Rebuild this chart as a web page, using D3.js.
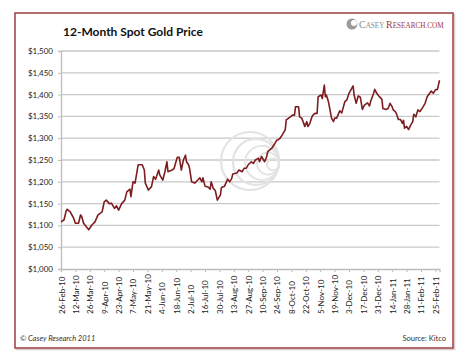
<!DOCTYPE html>
<html>
<head>
<meta charset="utf-8">
<script src="https://cdn.jsdelivr.net/npm/d3@7"></script>
<style>
  body { margin: 0; background: #fff; }
  svg { display: block; }
  text { font-family: Lato, "Open Sans", sans-serif; }
</style>
</head>
<body>
<svg id="chart" width="465" height="361"></svg>
<script>
// 12-Month Spot Gold Price -- Casey Research, Feb 2010 to Mar 2011

var dates = [
  "2010-02-26","2010-03-01","2010-03-03","2010-03-04","2010-03-07","2010-03-10","2010-03-12","2010-03-15",
  "2010-03-17","2010-03-18","2010-03-20","2010-03-23","2010-03-25","2010-03-28","2010-03-31","2010-04-03",
  "2010-04-07","2010-04-09","2010-04-11","2010-04-14","2010-04-16","2010-04-19","2010-04-21","2010-04-23",
  "2010-04-26","2010-04-29","2010-05-01","2010-05-04","2010-05-05","2010-05-07","2010-05-09","2010-05-12",
  "2010-05-16","2010-05-18","2010-05-19","2010-05-22","2010-05-25","2010-05-27","2010-05-29","2010-06-01",
  "2010-06-02","2010-06-05","2010-06-07","2010-06-09","2010-06-10","2010-06-14","2010-06-16","2010-06-19",
  "2010-06-21","2010-06-23","2010-06-25","2010-06-27","2010-06-28","2010-06-30","2010-07-01","2010-07-03",
  "2010-07-06","2010-07-09","2010-07-11","2010-07-13","2010-07-14","2010-07-16","2010-07-19","2010-07-21",
  "2010-07-22","2010-07-24","2010-07-26","2010-07-28","2010-07-31","2010-08-01","2010-08-04","2010-08-07",
  "2010-08-09","2010-08-11","2010-08-12","2010-08-16","2010-08-18","2010-08-21","2010-08-23","2010-08-25",
  "2010-08-27","2010-08-30","2010-09-01","2010-09-03","2010-09-06","2010-09-07","2010-09-09","2010-09-11",
  "2010-09-12","2010-09-14","2010-09-15","2010-09-19","2010-09-20","2010-09-22","2010-09-24","2010-09-25",
  "2010-09-27","2010-09-29","2010-10-02","2010-10-03","2010-10-07","2010-10-09","2010-10-11","2010-10-12",
  "2010-10-15","2010-10-16","2010-10-18","2010-10-20","2010-10-21","2010-10-23","2010-10-24","2010-10-26",
  "2010-10-28","2010-10-29","2010-10-31","2010-11-02","2010-11-03","2010-11-06","2010-11-07","2010-11-09",
  "2010-11-10","2010-11-11","2010-11-13","2010-11-14","2010-11-16","2010-11-18","2010-11-19","2010-11-21",
  "2010-11-23","2010-11-24","2010-11-26","2010-11-29","2010-12-01","2010-12-03","2010-12-07","2010-12-08",
  "2010-12-10","2010-12-12","2010-12-14","2010-12-16","2010-12-18","2010-12-21","2010-12-23","2010-12-24",
  "2010-12-27","2010-12-28","2010-12-30","2011-01-01","2011-01-04","2011-01-05","2011-01-08","2011-01-10",
  "2011-01-12","2011-01-14","2011-01-15","2011-01-17","2011-01-18","2011-01-20","2011-01-22","2011-01-24",
  "2011-01-25","2011-01-26","2011-01-28","2011-01-30","2011-02-01","2011-02-03","2011-02-04","2011-02-06",
  "2011-02-08","2011-02-10","2011-02-13","2011-02-15","2011-02-17","2011-02-20","2011-02-21","2011-02-23",
  "2011-02-25","2011-02-27","2011-03-01"
];

var prices = [
  1108,1113,1133,1137,1131,1118,1105,1105,
  1124,1121,1105,1096,1090,1101,1108,1124,
  1131,1154,1158,1150,1151,1139,1145,1135,
  1150,1158,1177,1183,1166,1200,1197,1239,
  1239,1227,1197,1181,1189,1212,1206,1227,
  1216,1204,1223,1246,1223,1227,1231,1256,
  1256,1227,1250,1261,1246,1239,1231,1200,
  1197,1204,1209,1200,1209,1190,1188,1183,
  1200,1185,1180,1158,1170,1187,1190,1206,
  1200,1208,1218,1220,1227,1223,1231,1231,
  1239,1246,1242,1250,1254,1246,1258,1250,
  1246,1258,1269,1277,1281,1288,1296,1296,
  1300,1307,1319,1342,1349,1353,1353,1372,
  1372,1349,1346,1334,1327,1338,1327,1334,
  1349,1353,1357,1357,1395,1399,1391,1422,
  1395,1399,1384,1372,1346,1338,1346,1346,
  1357,1363,1358,1384,1388,1403,1420,1399,
  1380,1397,1394,1366,1376,1381,1374,1384,
  1403,1412,1403,1397,1389,1368,1366,1368,
  1380,1372,1365,1361,1357,1343,1343,1334,
  1341,1323,1327,1320,1330,1338,1355,1349,
  1365,1361,1372,1380,1395,1405,1408,1403,
  1411,1412,1433
];

var tickLabels = [
  "26-Feb-10","12-Mar-10","26-Mar-10","9-Apr-10","23-Apr-10","7-May-10","21-May-10",
  "4-Jun-10","18-Jun-10","2-Jul-10","16-Jul-10","30-Jul-10","13-Aug-10","27-Aug-10",
  "10-Sep-10","24-Sep-10","8-Oct-10","22-Oct-10","5-Nov-10","19-Nov-10","3-Dec-10",
  "17-Dec-10","31-Dec-10","14-Jan-11","28-Jan-11","11-Feb-11","25-Feb-11"
];

var yTicks = [1000, 1050, 1100, 1150, 1200, 1250, 1300, 1350, 1400, 1450, 1500];

var parseDay = d3.timeParse("%Y-%m-%d"),
    parseTick = d3.timeParse("%d-%b-%y");

var data = dates.map(function (d, i) {
  return { date: parseDay(d), price: prices[i] };
});
var tickDates = tickLabels.map(function (t) { return parseTick(t); });

var svg = d3.select("#chart");

var plotLeft = 61, plotRight = 439.5, plotTop = 51, plotBottom = 269;

var x = d3.scaleTime()
  .domain(d3.extent(data, function (d) { return d.date; }))
  .range([plotLeft, plotRight]);

var y = d3.scaleLinear()
  .domain([1000, 1500])
  .range([plotBottom, plotTop]);

///////////////////////////////////////////////////////////////////////////////
// Frame

svg.append("rect")
  .attr("x", 16.5).attr("y", 14.5).attr("width", 438).attr("height", 335)
  .attr("fill", "none").attr("stroke", "#d8cccc").attr("stroke-width", 1.5);
svg.append("rect")
  .attr("x", 15).attr("y", 13).attr("width", 438).attr("height", 335)
  .attr("fill", "#fff").attr("stroke", "#a3484c").attr("stroke-width", 1.6);

///////////////////////////////////////////////////////////////////////////////
// Grid and axes

svg.append("g").selectAll("line")
  .data(yTicks.slice(1))
  .enter().append("line")
  .attr("x1", plotLeft).attr("x2", plotRight)
  .attr("y1", function (d) { return y(d); })
  .attr("y2", function (d) { return y(d); })
  .attr("stroke", "#c9c9c9").attr("stroke-width", 1.3);

var yAxis = svg.append("g")
  .attr("transform", "translate(" + plotLeft + ",0)")
  .call(d3.axisLeft(y).tickValues(yTicks).tickSize(3).tickPadding(5)
    .tickFormat(function (d) { return "$" + d3.format(",")(d); }));

var xAxis = svg.append("g")
  .attr("transform", "translate(0," + plotBottom + ")")
  .call(d3.axisBottom(x).tickValues(tickDates).tickSize(3)
    .tickFormat(function (d, i) { return tickLabels[i]; }));

[yAxis, xAxis].forEach(function (g) {
  g.select(".domain").attr("stroke", "#bdbdbd").attr("stroke-width", 1.3);
  g.selectAll(".tick line").attr("stroke", "#bdbdbd").attr("stroke-width", 1);
  g.selectAll("text").attr("fill", "#222").style("font-size", "8px");
});

xAxis.selectAll("text")
  .attr("text-anchor", "start")
  .attr("transform", "translate(3,45) rotate(-90)")
  .attr("x", 0).attr("y", 0).attr("dy", 0);

///////////////////////////////////////////////////////////////////////////////
// Watermark swirl

var swirl = svg.append("g").attr("fill", "none").attr("stroke", "#e3e3e3");
[29, 23, 17, 11, 6].forEach(function (r) {
  swirl.append("circle")
    .attr("cx", 279 - r).attr("cy", 161 + (29 - r) * 0.15).attr("r", r)
    .attr("stroke-width", r > 20 ? 2.2 : 1.8);
});

///////////////////////////////////////////////////////////////////////////////
// Price line

var line = d3.line()
  .x(function (d) { return x(d.date); })
  .y(function (d) { return y(d.price); });

svg.append("path")
  .datum(data)
  .attr("d", line)
  .attr("fill", "none")
  .attr("stroke", "#7d1d1f")
  .attr("stroke-width", 1.6)
  .attr("stroke-linejoin", "round");

///////////////////////////////////////////////////////////////////////////////
// Titles and notes

svg.append("text")
  .attr("x", 63).attr("y", 36)
  .style("font-size", "12px").style("font-weight", "bold")
  .attr("fill", "#111")
  .text("12-Month Spot Gold Price");

var logo = svg.append("g");
logo.append("circle").attr("cx", 352).attr("cy", 24).attr("r", 5.5)
  .attr("fill", "#9a9a9a");
logo.append("circle").attr("cx", 354).attr("cy", 23).attr("r", 3)
  .attr("fill", "#fff");
var logoText = logo.append("text")
  .attr("x", 359).attr("y", 28)
  .style("font-family", "'Liberation Serif', 'DejaVu Serif', serif");
logoText.append("tspan").attr("fill", "#8a8a8a").style("font-size", "10px").text("C");
logoText.append("tspan").attr("fill", "#8a8a8a").style("font-size", "7.2px").text("ASEY ");
logoText.append("tspan").attr("fill", "#a3373c").style("font-size", "10px").text("R");
logoText.append("tspan").attr("fill", "#a3373c").style("font-size", "7.2px").text("ESEARCH.COM");

svg.append("text")
  .attr("x", 20).attr("y", 341)
  .style("font-size", "7.5px").style("font-style", "italic")
  .attr("fill", "#333")
  .text("\u00a9 Casey Research 2011");

svg.append("text")
  .attr("x", 446).attr("y", 341)
  .attr("text-anchor", "end")
  .style("font-size", "7.5px")
  .attr("fill", "#333")
  .text("Source: Kitco");
</script>
</body>
</html>
